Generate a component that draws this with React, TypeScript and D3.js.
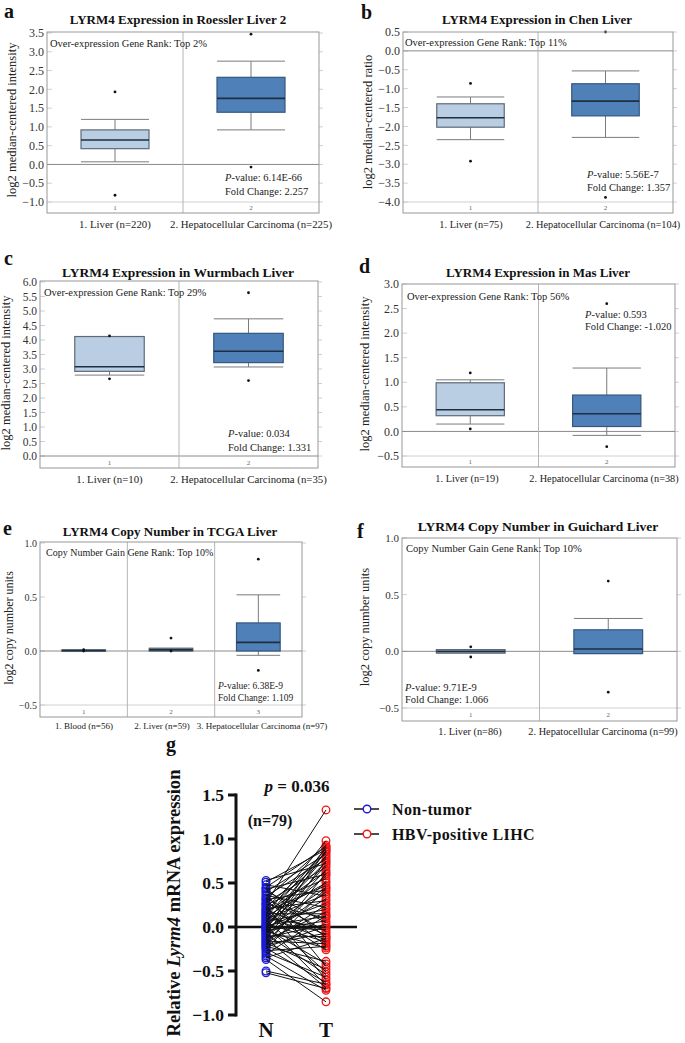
import React from "react";
import * as d3 from "d3";

// ---------- DATA ----------
// box stats: [whiskerLow, q1, median, q3, whiskerHigh]
const roesslerCategories = ["1. Liver (n=220)", "2. Hepatocellular Carcinoma (n=225)"];
const roesslerStats = [[0.07, 0.42, 0.65, 0.92, 1.2], [0.92, 1.39, 1.76, 2.32, 2.75]];
const roesslerOutliers = [[1.93, -0.82], [3.47, -0.07]];
const roesslerTicks = [-1.0, -0.5, 0.0, 0.5, 1.0, 1.5, 2.0, 2.5, 3.0, 3.5];

const chenCategories = ["1. Liver (n=75)", "2. Hepatocellular Carcinoma (n=104)"];
const chenStats = [[-2.35, -2.02, -1.77, -1.4, -1.22], [-2.29, -1.72, -1.33, -0.87, -0.53]];
const chenOutliers = [[-0.86, -2.92], [0.5, -3.88]];
const chenTicks = [-4.0, -3.5, -3.0, -2.5, -2.0, -1.5, -1.0, -0.5, 0.0, 0.5];

const wurmbachCategories = ["1. Liver (n=10)", "2. Hepatocellular Carcinoma (n=35)"];
const wurmbachStats = [[2.79, 2.92, 3.08, 4.12, 4.12], [3.07, 3.22, 3.61, 4.23, 4.73]];
const wurmbachOutliers = [[4.14, 2.66], [5.63, 2.6]];
const wurmbachTicks = [0.0, 0.5, 1.0, 1.5, 2.0, 2.5, 3.0, 3.5, 4.0, 4.5, 5.0, 5.5, 6.0];

const masCategories = ["1. Liver (n=19)", "2. Hepatocellular Carcinoma (n=38)"];
const masStats = [[0.15, 0.32, 0.44, 0.99, 1.05], [-0.08, 0.1, 0.36, 0.74, 1.29]];
const masOutliers = [[1.19, 0.05], [2.6, -0.31]];
const masTicks = [-0.5, 0.0, 0.5, 1.0, 1.5, 2.0, 2.5, 3.0];

const tcgaCategories = ["1. Blood (n=56)", "2. Liver (n=59)", "3. Hepatocellular Carcinoma (n=97)"];
const tcgaStats = [[0.0, 0.0, 0.005, 0.01, 0.01], [0.0, 0.0, 0.01, 0.025, 0.025], [-0.04, 0.0, 0.08, 0.26, 0.52]];
const tcgaOutliers = [[0.012, 0.0], [0.12, 0.0], [0.85, -0.18]];
const tcgaTicks = [-0.5, 0.0, 0.5, 1.0];

const guichardCategories = ["1. Liver (n=86)", "2. Hepatocellular Carcinoma (n=99)"];
const guichardStats = [[-0.015, -0.015, 0.0, 0.015, 0.015], [-0.02, -0.02, 0.02, 0.19, 0.29]];
const guichardOutliers = [[0.04, -0.05], [0.62, -0.36]];
const guichardTicks = [-0.5, 0.0, 0.5, 1.0];

// panel g: paired samples (index i of each array is one patient)
const nonTumor = [
  0.53, 0.51, 0.48, 0.45, 0.44, 0.43, 0.41, 0.40, 0.38, 0.36,
  0.35, 0.33, 0.32, 0.31, 0.30, 0.28, 0.27, 0.26, 0.25, 0.24,
  0.22, 0.21, 0.20, 0.19, 0.18, 0.17, 0.16, 0.15, 0.14, 0.13,
  0.12, 0.11, 0.10, 0.09, 0.08, 0.07, 0.06, 0.05, 0.04, 0.03,
  0.02, 0.02, 0.01, 0.00, -0.005, -0.01, -0.02, -0.03, -0.03, -0.04,
  -0.05, -0.06, -0.07, -0.08, -0.09, -0.10, -0.11, -0.12, -0.13, -0.14,
  -0.15, -0.16, -0.17, -0.18, -0.19, -0.20, -0.21, -0.22, -0.23, -0.24,
  -0.25, -0.27, -0.29, -0.31, -0.33, -0.35, -0.37, -0.50, -0.52,
];
const hbvLihc = [
  0.72, 0.88, 0.35, 0.91, -0.12, 0.60, 0.05, 0.83, -0.45, 0.22,
  0.77, -0.05, 0.93, 0.42, -0.21, 0.68, 1.33, 0.10, 0.55, -0.60,
  0.85, 0.30, -0.09, 0.79, 0.47, -0.26, 0.63, 0.15, 0.98, -0.15,
  0.50, 0.89, -0.01, 0.37, -0.51, 0.74, 0.20, 0.86, -0.17, 0.58,
  0.12, -0.66, 0.81, 0.27, -0.03, 0.70, -0.42, 0.45, 0.91, 0.07,
  -0.24, 0.65, 0.32, -0.54, 0.87, -0.11, 0.40, 0.03, -0.69, 0.75,
  0.17, -0.19, 0.52, -0.48, 0.25, -0.07, 0.61, -0.39, 0.01, -0.63,
  0.44, -0.22, -0.57, 0.13, -0.72, -0.13, -0.85, -0.65, -0.70,
];
const gTicks = [-1.0, -0.5, 0.0, 0.5, 1.0, 1.5];
const gGroups = ["N", "T"];
const gLegend = ["Non-tumor", "HBV-positive LIHC"];

// ---------- STYLE ----------
const SERIF = "\"Liberation Serif\", \"Times New Roman\", \"DejaVu Serif\", serif";
const NORMAL_FILL = "#b9cde3";
const NORMAL_STROKE = "#5d6a78";
const TUMOR_FILL = "#4f81b8";
const TUMOR_STROKE = "#34577e";
const MEDIAN = "#1f2e40";
const WHISKER = "#7b7b7b";
const FRAME = "#979797";

type PanelProps = {
  letter: string; title: string; ylabel: string; rank: string;
  pval?: string; fold?: string;
  categories: string[]; stats: number[][]; outliers: number[][]; ticks: number[];
  tumor: boolean[];
  L: any;
};

function BoxPanel({ letter, title, ylabel, rank, pval, fold, categories, stats, outliers, ticks, tumor, L }: PanelProps) {
  const y = d3.scaleLinear().domain([ticks[0], ticks[ticks.length - 1]]).range([L.yLow, L.yHigh]);
  const x = d3.scaleBand().domain(categories.map((_, i) => String(i))).range([L.x0, L.x1]).padding(0);
  const bw = x.bandwidth() * 0.5;
  const fmt = d3.format(".1f");
  const fs = L.fs;
  return (
    <g style={{ fontFamily: SERIF }}>
      <text x={L.letterX} y={L.letterY} fontSize={20} fontWeight="bold" fill="#111">{letter}</text>
      <text x={L.titleX} y={L.titleY} fontSize={L.titleFs} fontWeight="bold" textAnchor="middle" fill="#111">{title}</text>
      <text transform={`translate(${L.ylabX},${L.ylabY}) rotate(-90)`} fontSize={L.ylabFs} textAnchor="middle" fill="#222">{ylabel}</text>
      {ticks.map((t) => (
        <g key={t}>
          <line x1={L.x0} x2={L.x0 + 5} y1={y(t)} y2={y(t)} stroke="#d0d0d0" />
          <line x1={L.x1} x2={L.x1 + 4} y1={y(t)} y2={y(t)} stroke="#d0d0d0" />
          <text x={L.x0 - 3} y={y(t) + fs * 0.35} fontSize={fs} textAnchor="end" fill="#333">{fmt(t)}</text>
        </g>
      ))}
      <line x1={L.x0} x2={L.x1} y1={y(ticks[0])} y2={y(ticks[0])} stroke={ticks[0] === 0 ? "#8a8a8a" : "#d0d0d0"} />
      {ticks[0] < 0 && <line x1={L.x0} x2={L.x1} y1={y(0)} y2={y(0)} stroke="#8a8a8a" />}
      {categories.slice(1).map((_, i) => (
        <line key={i} x1={x(String(i + 1))!} x2={x(String(i + 1))!} y1={L.top} y2={L.stripBottom} stroke="#b5b5b5" />
      ))}
      {categories.map((_, i) => (
        <text key={i} x={x(String(i))! + x.bandwidth() / 2} y={(y(ticks[0]) + L.stripBottom) / 2 + 2.5} fontSize={7} textAnchor="middle" fill="#666">{i + 1}</text>
      ))}
      {stats.map((s, i) => {
        const cx = x(String(i))! + x.bandwidth() / 2;
        const [wl, q1, md, q3, wh] = s;
        const fill = tumor[i] ? TUMOR_FILL : NORMAL_FILL;
        const stroke = tumor[i] ? TUMOR_STROKE : NORMAL_STROKE;
        return (
          <g key={i}>
            <line x1={cx} x2={cx} y1={y(wh)} y2={y(q3)} stroke={WHISKER} />
            <line x1={cx} x2={cx} y1={y(q1)} y2={y(wl)} stroke={WHISKER} />
            <line x1={cx - bw / 2} x2={cx + bw / 2} y1={y(wh)} y2={y(wh)} stroke={WHISKER} />
            <line x1={cx - bw / 2} x2={cx + bw / 2} y1={y(wl)} y2={y(wl)} stroke={WHISKER} />
            <rect x={cx - bw / 2} y={y(q3)} width={bw} height={Math.max(1.5, y(q1) - y(q3))} fill={fill} stroke={stroke} strokeWidth={1.2} />
            <line x1={cx - bw / 2} x2={cx + bw / 2} y1={y(md)} y2={y(md)} stroke={MEDIAN} strokeWidth={1.6} />
            {outliers[i].map((o, j) => (
              <circle key={j} cx={cx} cy={y(o)} r={1.4} fill="#111" />
            ))}
          </g>
        );
      })}
      <rect x={L.x0} y={L.top} width={L.x1 - L.x0} height={L.stripBottom - L.top} fill="none" stroke={FRAME} />
      {categories.map((c, i) => (
        <text key={c} x={L.catX ? L.catX[i] : x(String(i))! + x.bandwidth() / 2} y={L.catY} fontSize={L.catFs} textAnchor="middle" fill="#222">{c}</text>
      ))}
      <text x={L.rankX} y={L.rankY} fontSize={L.rankFs} fill="#222">{rank}</text>
      {pval && (
        <text x={L.pX} y={L.pY} fontSize={L.pFs} fill="#222">
          <tspan fontStyle="italic">P</tspan>-value: {pval}
        </text>
      )}
      {fold && (
        <text x={L.pX} y={L.pY + L.pGap} fontSize={L.pFs} fill="#222">Fold Change: {fold}</text>
      )}
    </g>
  );
}

function PairedPanel() {
  const y = d3.scaleLinear().domain([gTicks[0], gTicks[gTicks.length - 1]]).range([1015, 795]);
  const x = d3.scalePoint().domain(gGroups).range([266, 326]);
  const fmt = d3.format(".1f");
  const axX = 236;
  return (
    <g style={{ fontFamily: SERIF }} fontWeight="bold" fill="#111">
      <text x={166} y={751} fontSize={20}>g</text>
      <text transform={`translate(180,903) rotate(-90)`} fontSize={18.6} textAnchor="middle">
        Relative <tspan fontStyle="italic">Lyrm4</tspan> mRNA expression
      </text>
      <line x1={axX} x2={axX} y1={y(1.5) - 1.5} y2={y(-1.0) + 1.5} stroke="#111" strokeWidth={3} />
      {gTicks.map((t) => (
        <g key={t}>
          <line x1={axX - 8} x2={axX} y1={y(t)} y2={y(t)} stroke="#111" strokeWidth={3} />
          <text x={224} y={y(t) + 6} fontSize={17.5} textAnchor="end">{fmt(t)}</text>
        </g>
      ))}
      <line x1={axX} x2={357} y1={y(0)} y2={y(0)} stroke="#111" strokeWidth={2.5} />
      {nonTumor.map((v, i) => (
        <circle key={"n" + i} cx={x("N")} cy={y(v)} r={3.8} fill="none" stroke="#1c1cd6" strokeWidth={1.3} />
      ))}
      {hbvLihc.map((v, i) => (
        <circle key={"t" + i} cx={x("T")} cy={y(v)} r={3.8} fill="none" stroke="#f01414" strokeWidth={1.3} />
      ))}
      {nonTumor.map((v, i) => (
        <line key={"l" + i} x1={x("N")} x2={x("T")} y1={y(v)} y2={y(hbvLihc[i])} stroke="#111" strokeWidth={1} />
      ))}
      {gGroups.map((g) => (
        <text key={g} x={x(g)} y={1037} fontSize={21} textAnchor="middle">{g}</text>
      ))}
      <text x={297} y={792} fontSize={17} textAnchor="middle">
        <tspan fontStyle="italic">p</tspan> = 0.036
      </text>
      <text x={270} y={826} fontSize={16} textAnchor="middle">(n=79)</text>
      {gLegend.map((lab, i) => (
        <g key={lab}>
          <line x1={354} x2={379} y1={809 + i * 25} y2={809 + i * 25} stroke="#111" strokeWidth={1.5} />
          <circle cx={367} cy={809 + i * 25} r={3.8} fill="#fff" stroke={i === 0 ? "#1c1cd6" : "#f01414"} strokeWidth={1.4} />
          <text x={392} y={815 + i * 25} fontSize={16} letterSpacing={0.4}>{lab}</text>
        </g>
      ))}
    </g>
  );
}

const layoutA = { x0: 47, x1: 319, top: 32, yLow: 202, yHigh: 33, stripBottom: 213, letterX: 4, letterY: 18, titleX: 178, titleY: 24, titleFs: 13, ylabX: 16, ylabY: 120, ylabFs: 12.5, fs: 12, catY: 228, catFs: 10.8, rankX: 50, rankY: 47, rankFs: 10.5, pX: 225, pY: 181, pGap: 14, pFs: 10.5 };
const layoutB = { x0: 403, x1: 673, top: 32, yLow: 202, yHigh: 32, stripBottom: 213, letterX: 361, letterY: 19, titleX: 537, titleY: 24, titleFs: 13, ylabX: 372, ylabY: 122, ylabFs: 12.5, fs: 12, catY: 228, catFs: 10.3, catX: [471, 603], rankX: 405, rankY: 46, rankFs: 10.5, pX: 587, pY: 178, pGap: 12.5, pFs: 10.5 };
const layoutC = { x0: 40, x1: 318, top: 281, yLow: 456, yHigh: 282, stripBottom: 468, letterX: 4, letterY: 265, titleX: 178, titleY: 277, titleFs: 13.5, ylabX: 10, ylabY: 373, ylabFs: 12.5, fs: 11.5, catY: 483, catFs: 10.8, rankX: 44, rankY: 296, rankFs: 10.5, pX: 228, pY: 437, pGap: 14, pFs: 10.5 };
const layoutD = { x0: 402, x1: 675, top: 284, yLow: 456, yHigh: 284, stripBottom: 467, letterX: 359, letterY: 273, titleX: 538, titleY: 277, titleFs: 13, ylabX: 369, ylabY: 374, ylabFs: 12.5, fs: 12, catY: 482, catFs: 10.3, catX: [467, 604], rankX: 407, rankY: 300, rankFs: 10.5, pX: 585, pY: 318, pGap: 12, pFs: 10.5 };
const layoutE = { x0: 40, x1: 302, top: 542, yLow: 705, yHigh: 543, stripBottom: 717, letterX: 3, letterY: 535, titleX: 170, titleY: 536, titleFs: 13, ylabX: 13, ylabY: 628, ylabFs: 12, fs: 10, catY: 729, catFs: 9, catX: [84, 162, 262], rankX: 46, rankY: 556, rankFs: 10, pX: 218, pY: 689, pGap: 11.5, pFs: 9.5 };
const layoutF = { x0: 402, x1: 677, top: 538, yLow: 708, yHigh: 538, stripBottom: 721, letterX: 357, letterY: 538, titleX: 538, titleY: 531, titleFs: 13.5, ylabX: 369, ylabY: 627, ylabFs: 12.5, fs: 11, catY: 735, catFs: 10.3, catX: [470, 603], rankX: 406, rankY: 552, rankFs: 10.5, pX: 405, pY: 691, pGap: 12, pFs: 10.5 };

export default function App() {
  return (
    <svg width={685} height={1043} style={{ position: "absolute", left: 0, top: 0, background: "#fff" }}>
      <rect width={685} height={1043} fill="#fff" />
      <BoxPanel letter="a" title="LYRM4 Expression in Roessler Liver 2" ylabel="log2 median-centered intensity"
        rank="Over-expression Gene Rank: Top 2%" pval="6.14E-66" fold="2.257"
        categories={roesslerCategories} stats={roesslerStats} outliers={roesslerOutliers} ticks={roesslerTicks}
        tumor={[false, true]} L={layoutA} />
      <BoxPanel letter="b" title="LYRM4 Expression in Chen Liver" ylabel="log2 median-centered ratio"
        rank="Over-expression Gene Rank: Top 11%" pval="5.56E-7" fold="1.357"
        categories={chenCategories} stats={chenStats} outliers={chenOutliers} ticks={chenTicks}
        tumor={[false, true]} L={layoutB} />
      <BoxPanel letter="c" title="LYRM4 Expression in Wurmbach Liver" ylabel="log2 median-centered intensity"
        rank="Over-expression Gene Rank: Top 29%" pval="0.034" fold="1.331"
        categories={wurmbachCategories} stats={wurmbachStats} outliers={wurmbachOutliers} ticks={wurmbachTicks}
        tumor={[false, true]} L={layoutC} />
      <BoxPanel letter="d" title="LYRM4 Expression in Mas Liver" ylabel="log2 median-centered intensity"
        rank="Over-expression Gene Rank: Top 56%" pval="0.593" fold="-1.020"
        categories={masCategories} stats={masStats} outliers={masOutliers} ticks={masTicks}
        tumor={[false, true]} L={layoutD} />
      <BoxPanel letter="e" title="LYRM4 Copy Number in TCGA Liver" ylabel="log2 copy number units"
        rank="Copy Number Gain Gene Rank: Top 10%" pval="6.38E-9" fold="1.109"
        categories={tcgaCategories} stats={tcgaStats} outliers={tcgaOutliers} ticks={tcgaTicks}
        tumor={[false, false, true]} L={layoutE} />
      <BoxPanel letter="f" title="LYRM4 Copy Number in Guichard Liver" ylabel="log2 copy number units"
        rank="Copy Number Gain Gene Rank: Top 10%" pval="9.71E-9" fold="1.066"
        categories={guichardCategories} stats={guichardStats} outliers={guichardOutliers} ticks={guichardTicks}
        tumor={[false, true]} L={layoutF} />
      <PairedPanel />
    </svg>
  );
}
